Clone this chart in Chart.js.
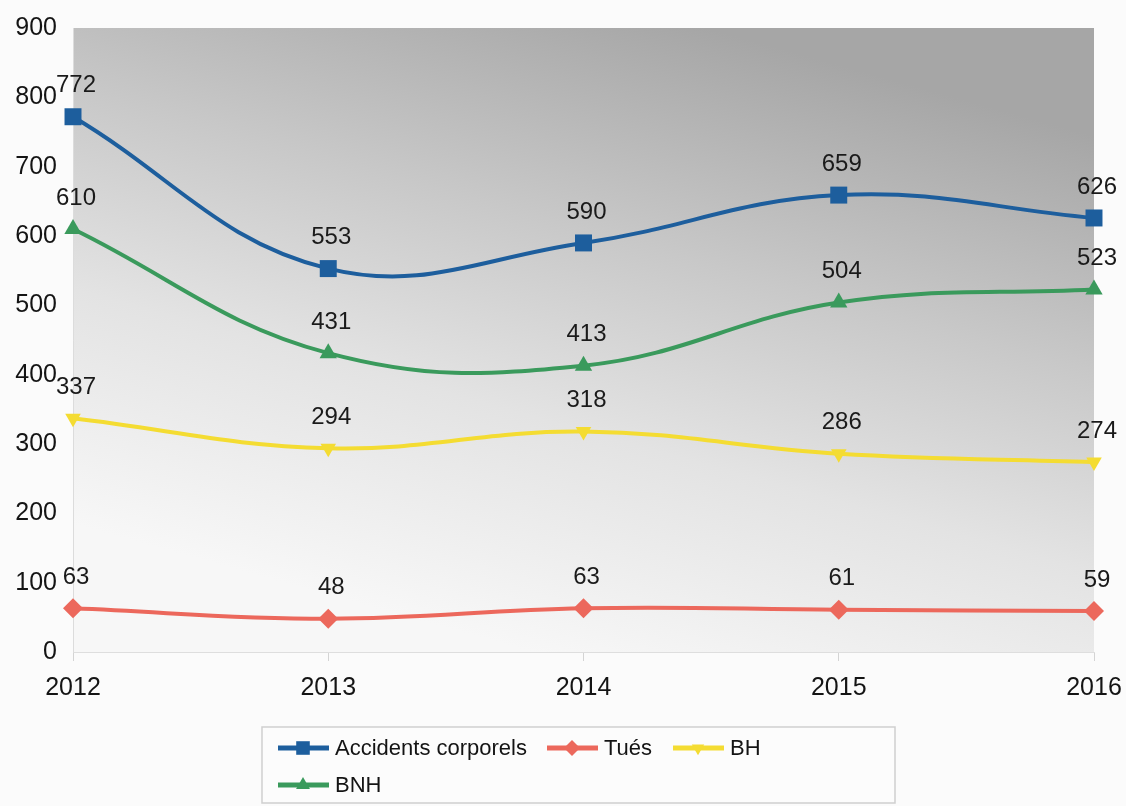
<!DOCTYPE html>
<html lang="fr">
<head>
    <meta charset="UTF-8">
    <title>Accidents 2012-2016</title>
    <script src="https://cdn.jsdelivr.net/npm/chart.js"></script>
    <style>
        html, body { margin: 0; padding: 0; background: #fbfbfb; }
        #wrap { position: relative; width: 1126px; height: 806px; }
    </style>
</head>
<body>
<div id="wrap"><canvas id="myChart" width="1126" height="806"></canvas></div>
<script>
    // Données
    var annees = ['2012', '2013', '2014', '2015', '2016'];
    var accidents = [772, 553, 590, 659, 626];
    var tues = [63, 48, 63, 61, 59];
    var bh = [337, 294, 318, 286, 274];
    var bnh = [610, 431, 413, 504, 523];
    var yTicks = [0, 100, 200, 300, 400, 500, 600, 700, 800, 900];

    var police = '"Liberation Sans", Arial, sans-serif';

    // fond dégradé gris (foncé en haut, blanc en bas)
    var fondGradient = {
        id: 'fondGradient',
        beforeDraw: function(chart) {
            var ctx = chart.ctx, a = chart.chartArea;
            var w = a.right - a.left;
            var g = ctx.createLinearGradient(a.left + w * 0.62, a.top, a.left + w * 0.45, a.bottom);
            g.addColorStop(0, '#a6a6a6');
            g.addColorStop(0.35, '#c8c8c8');
            g.addColorStop(0.65, '#e3e3e3');
            g.addColorStop(1, '#f7f7f7');
            ctx.save();
            ctx.fillStyle = g;
            ctx.fillRect(a.left, a.top, w, a.bottom - a.top);
            ctx.restore();
        }
    };

    // valeurs au-dessus des points
    var etiquettes = {
        id: 'etiquettes',
        afterDatasetsDraw: function(chart) {
            var ctx = chart.ctx;
            ctx.save();
            ctx.font = '24px ' + police;
            ctx.fillStyle = '#1a1a1a';
            ctx.textAlign = 'center';
            ctx.textBaseline = 'middle';
            chart.data.datasets.forEach(function(ds, i) {
                chart.getDatasetMeta(i).data.forEach(function(pt, j) {
                    ctx.fillText(String(ds.data[j]), pt.x + 3, pt.y - 31);
                });
            });
            ctx.restore();
        }
    };

    // légende encadrée en bas (trait + marqueur)
    var legende = {
        id: 'legende',
        afterDraw: function(chart) {
            var ctx = chart.ctx;
            var box = { x: 262, y: 727, w: 633, h: 76 };
            ctx.save();
            ctx.fillStyle = '#fcfcfc';
            ctx.fillRect(box.x, box.y, box.w, box.h);
            ctx.strokeStyle = '#cfcfcf';
            ctx.lineWidth = 1.5;
            ctx.strokeRect(box.x, box.y, box.w, box.h);
            var pos = [[278, 748], [547, 748], [673, 748], [278, 785]];
            ctx.font = '22px ' + police;
            ctx.textBaseline = 'middle';
            chart.data.datasets.forEach(function(ds, i) {
                var x = pos[i][0], y = pos[i][1];
                ctx.strokeStyle = ds.borderColor;
                ctx.lineWidth = 5;
                ctx.beginPath();
                ctx.moveTo(x, y);
                ctx.lineTo(x + 51, y);
                ctx.stroke();
                ctx.fillStyle = ds.borderColor;
                Chart.helpers.drawPoint(ctx, {
                    pointStyle: ds.pointStyle,
                    radius: ds.pointRadius * 0.8,
                    rotation: ds.rotation || 0,
                    borderWidth: 0
                }, x + 25, y);
                ctx.fillStyle = '#141414';
                ctx.fillText(ds.label, x + 57, y + 1);
            });
            ctx.restore();
        }
    };

    var ctx = document.getElementById('myChart').getContext('2d');
    var myChart = new Chart(ctx, {
        type: 'line',
        data: {
            labels: annees,
            datasets: [{
                label: 'Accidents corporels',
                data: accidents,
                borderColor: '#1d5e9d',
                backgroundColor: '#1d5e9d',
                pointStyle: 'rect',
                pointRadius: 12
            }, {
                label: 'Tués',
                data: tues,
                borderColor: '#ec685c',
                backgroundColor: '#ec685c',
                pointStyle: 'rectRot',
                pointRadius: 10
            }, {
                label: 'BH',
                data: bh,
                borderColor: '#f4dc32',
                backgroundColor: '#f4dc32',
                pointStyle: 'triangle',
                rotation: 180,
                pointRotation: 180,
                pointRadius: 9
            }, {
                label: 'BNH',
                data: bnh,
                borderColor: '#3a9a5c',
                backgroundColor: '#3a9a5c',
                pointStyle: 'triangle',
                pointRadius: 10
            }]
        },
        options: {
            responsive: false,
            animation: false,
            clip: false,
            layout: { padding: { top: 28, right: 32, left: 0, bottom: 0 } },
            elements: {
                line: { borderWidth: 4, tension: 0.4 },
                point: { borderWidth: 0, hoverRadius: 12 }
            },
            plugins: {
                legend: { display: false },
                tooltip: { enabled: false }
            },
            scales: {
                x: {
                    offset: false,
                    grid: { drawOnChartArea: false, drawTicks: true, tickLength: 9, color: '#d4d4d4' },
                    border: { color: '#dedede' },
                    ticks: { color: '#141414', font: { family: police, size: 25 }, padding: 12, maxRotation: 0 },
                    afterFit: function(s) { s.height = 154; s.paddingLeft = 0; s.paddingRight = 0; }
                },
                y: {
                    min: 0,
                    max: 900,
                    afterBuildTicks: function(s) { s.ticks = yTicks.map(function(v) { return { value: v }; }); },
                    grid: { display: false, drawTicks: false },
                    border: { color: '#dcdcdc' },
                    ticks: { color: '#141414', font: { family: police, size: 25 }, padding: 16 },
                    afterFit: function(s) { s.width = 73; s.paddingTop = 0; s.paddingBottom = 0; }
                }
            }
        },
        plugins: [fondGradient, etiquettes, legende]
    });
</script>
</body>
</html>
